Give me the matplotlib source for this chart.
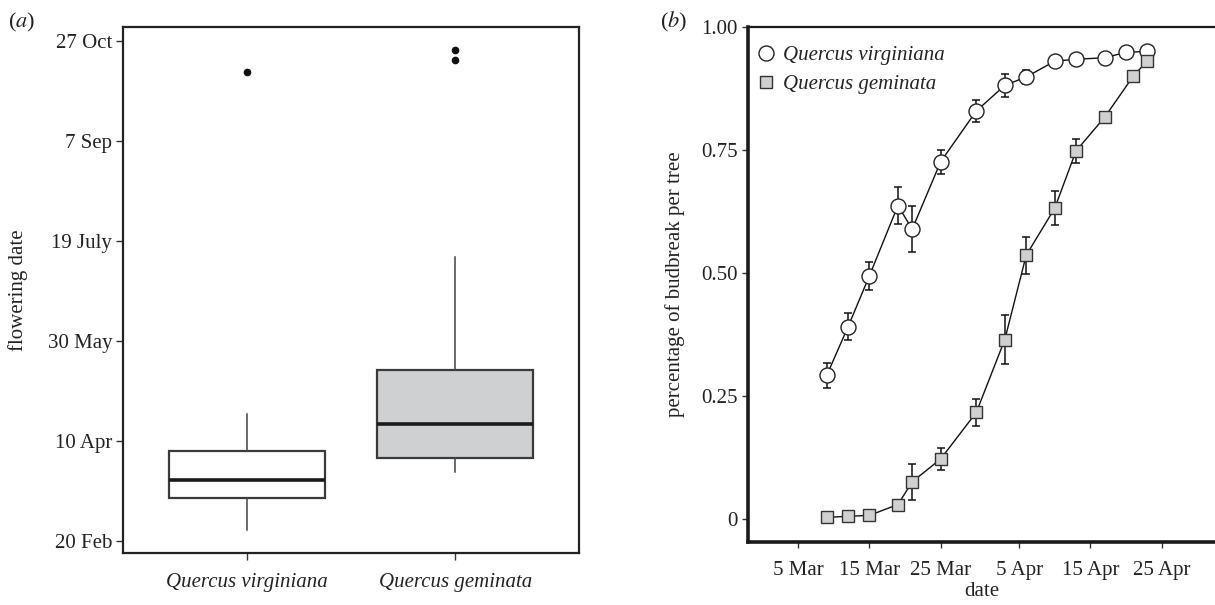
import matplotlib
matplotlib.use("Agg")
import matplotlib.pyplot as plt

plt.rcParams['font.family'] = ['Liberation Serif', 'DejaVu Serif']
plt.rcParams['mathtext.fontset'] = 'stix'

# ---------------- panel (a) data: flowering date (day of year) ----------------
species = ["Quercus virginiana", "Quercus geminata"]
box_whislo = [55.4, 84.5]
box_q1 = [71.5, 91.2]
box_med = [80.2, 108.2]
box_q3 = [95.0, 135.4]
box_whishi = [113.2, 192.0]
box_fliers = [[284.2], [295.2, 290.2]]
box_colors = ["#ffffff", "#cfd0d2"]
a_ticks = [50, 100, 150, 200, 250, 300]
a_ticklabels = ["20 Feb", "10 Apr", "30 May", "19 July", "7 Sep", "27 Oct"]

# ---------------- panel (b) data: budbreak (days since 1 Mar) ----------------
virg_day = [8, 11, 14, 18, 20, 24, 29, 33, 36, 40, 43, 47, 50, 53]
virg_val = [0.292, 0.391, 0.4945, 0.637, 0.589, 0.726, 0.829, 0.881, 0.898,
            0.930, 0.934, 0.937, 0.948, 0.950]
virg_err = [0.025, 0.027, 0.028, 0.037, 0.047, 0.024, 0.022, 0.024, 0.015,
            0.008, 0.006, 0.006, 0.005, 0.005]
gem_day = [8, 11, 14, 18, 20, 24, 29, 33, 36, 40, 43, 47, 51, 53]
gem_val = [0.004, 0.006, 0.008, 0.030, 0.076, 0.1226, 0.217, 0.365, 0.536,
           0.6315, 0.748, 0.816, 0.899, 0.931]
gem_err = [0.003, 0.003, 0.003, 0.006, 0.037, 0.023, 0.028, 0.050, 0.037,
           0.035, 0.025, 0.010, 0.008, 0.008]
b_xticks = [4, 14, 24, 35, 45, 55]
b_xticklabels = ["5 Mar", "15 Mar", "25 Mar", "5 Apr", "15 Apr", "25 Apr"]
b_yticks = [0, 0.25, 0.50, 0.75, 1.00]
b_yticklabels = ["0", "0.25", "0.50", "0.75", "1.00"]

FS = 15
TXT = "#222222"

fig = plt.figure(figsize=(12.15, 6.05), dpi=100)

# ---------------- panel (a) ----------------
axa = fig.add_axes([0.1015, 0.0855, 0.3753, 0.8704])
stats = []
for i in range(len(species)):
    stats.append(dict(label=species[i], whislo=box_whislo[i], q1=box_q1[i],
                      med=box_med[i], q3=box_q3[i], whishi=box_whishi[i],
                      fliers=box_fliers[i]))
bp = axa.bxp(stats, positions=[1, 2], widths=0.75, patch_artist=True,
             showcaps=False,
             boxprops=dict(edgecolor="#3a3a3a", linewidth=1.6),
             whiskerprops=dict(color="#444444", linewidth=1.1),
             medianprops=dict(color="#1a1a1a", linewidth=2.6),
             flierprops=dict(marker="o", markersize=4.5, markerfacecolor="#111111",
                             markeredgecolor="#111111", linestyle="none"))
for patch, c in zip(bp["boxes"], box_colors):
    patch.set_facecolor(c)
axa.set_xlim(0.404, 2.597)
axa.set_ylim(43.7, 307)
axa.set_yticks(a_ticks)
axa.set_yticklabels(a_ticklabels, fontsize=FS, color=TXT)
axa.set_xticks([1, 2])
axa.set_xticklabels(species, fontsize=FS, color=TXT, style="italic")
axa.tick_params(axis="both", direction="out", length=5, width=1.0, color="#333333")
axa.tick_params(axis="x", pad=9)
axa.tick_params(axis="y", pad=3)
for s in axa.spines.values():
    s.set_linewidth(1.6)
    s.set_color("#222222")
axa.set_ylabel("flowering date", fontsize=FS, color=TXT, labelpad=14)

# ---------------- panel (b) ----------------
axb = fig.add_axes([0.6159, 0.1046, 0.3841, 0.8512])
axb.errorbar(virg_day, virg_val, yerr=virg_err, fmt="none", ecolor="#111111",
             elinewidth=1.1, capsize=3.2, capthick=1.1, zorder=2)
axb.errorbar(gem_day, gem_val, yerr=gem_err, fmt="none", ecolor="#111111",
             elinewidth=1.1, capsize=3.2, capthick=1.1, zorder=2)
axb.plot(virg_day, virg_val, "-", color="#111111", lw=1.0, zorder=3)
axb.plot(gem_day, gem_val, "-", color="#111111", lw=1.0, zorder=3)
axb.plot(virg_day, virg_val, "o", ms=10.8, mfc="white", mec="#222222", mew=1.0,
         linestyle="none", zorder=4, label="Quercus virginiana")
axb.plot(gem_day, gem_val, "s", ms=9.2, mfc="#cfd0d2", mec="#333333", mew=1.0,
         linestyle="none", zorder=4, label="Quercus geminata")
axb.set_xlim(-3.0, 62.5)
axb.set_ylim(-0.0455, 1.0)
axb.set_xticks(b_xticks)
axb.set_xticklabels(b_xticklabels, fontsize=FS, color=TXT)
axb.set_yticks(b_yticks)
axb.set_yticklabels(b_yticklabels, fontsize=FS, color=TXT)
axb.tick_params(axis="both", direction="out", length=4, width=1.0, color="#333333")
axb.tick_params(axis="x", pad=10)
axb.spines["right"].set_visible(False)
axb.spines["left"].set_linewidth(2.6)
axb.spines["bottom"].set_linewidth(2.6)
axb.spines["top"].set_linewidth(1.6)
for s in axb.spines.values():
    s.set_color("#1a1a1a")
axb.set_xlabel("date", fontsize=FS, color=TXT, labelpad=1)
axb.set_ylabel("percentage of budbreak per tree", fontsize=FS, color=TXT, labelpad=12)
leg = axb.legend(loc="upper left", bbox_to_anchor=(-0.0236, 1.0), frameon=False,
                 prop=dict(family="Liberation Serif", style="italic", size=FS),
                 handletextpad=0.3, borderaxespad=0.3, labelspacing=0.45,
                 handlelength=1.0, borderpad=0.6)
for t in leg.get_texts():
    t.set_color(TXT)

fig.text(0.0066, 0.955, r"($\mathit{a}$)", fontsize=FS + 1, color=TXT)
fig.text(0.5432, 0.955, r"($\mathit{b}$)", fontsize=FS + 1, color=TXT)

fig.savefig("out.png", dpi=100)
